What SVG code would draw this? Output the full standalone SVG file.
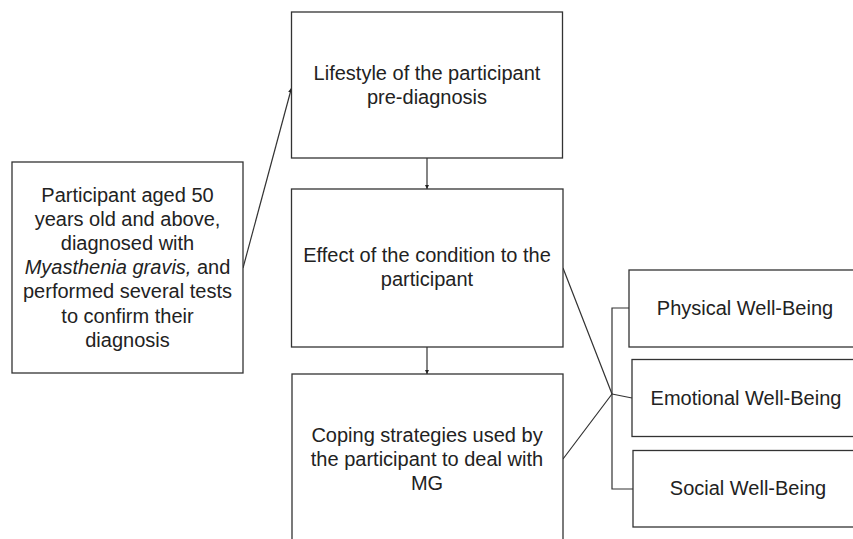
<svg xmlns="http://www.w3.org/2000/svg" width="853" height="539" viewBox="0 0 853 539">
<style>
.box{fill:#fff;stroke:#333;stroke-width:1.3}
.t{font-family:"Liberation Sans",Arial,sans-serif;font-size:20px;fill:#222;text-anchor:middle}
.c{fill:none;stroke:#333;stroke-width:1.2}
</style>
<defs>
<marker id="ah" viewBox="0 0 10 10" refX="10" refY="5" markerWidth="4.5" markerHeight="4.5" orient="auto" markerUnits="userSpaceOnUse">
<path d="M0,0 L10,5 L0,10 z" fill="#222"/>
</marker>
</defs>
<rect width="853" height="539" fill="#fff"/>
<g id="connectors">
<line class="c" x1="243" y1="268" x2="291.5" y2="88" marker-end="url(#ah)"/>
<line class="c" x1="427" y1="158" x2="427" y2="189" marker-end="url(#ah)"/>
<line class="c" x1="427" y1="347" x2="427" y2="374" marker-end="url(#ah)"/>
<polyline class="c" points="563,268 612,394 563,459"/>
<polyline class="c" points="629,308 612,308 612,489 633,489"/>
<line class="c" x1="612" y1="394" x2="632" y2="398"/>
</g>
<g id="participant">
<rect class="box" x="12" y="162" width="231" height="211"/>
<text class="t" x="127.5" y="201.5">Participant aged 50</text>
<text class="t" x="127.5" y="225.7">years old and above,</text>
<text class="t" x="127.5" y="249.9">diagnosed with</text>
<text class="t" x="127.5" y="274.1"><tspan font-style="italic">Myasthenia gravis,</tspan> and</text>
<text class="t" x="127.5" y="298.3">performed several tests</text>
<text class="t" x="127.5" y="322.5">to confirm their</text>
<text class="t" x="127.5" y="346.7">diagnosis</text>
</g>
<g id="lifestyle">
<rect class="box" x="291.5" y="12" width="271" height="146"/>
<text class="t" x="427" y="80">Lifestyle of the participant</text>
<text class="t" x="427" y="104">pre-diagnosis</text>
</g>
<g id="effect">
<rect class="box" x="291.5" y="189" width="271.5" height="158"/>
<text class="t" x="427" y="262">Effect of the condition to the</text>
<text class="t" x="427" y="286">participant</text>
</g>
<g id="coping">
<rect class="box" x="292" y="374" width="271" height="180"/>
<text class="t" x="427" y="442">Coping strategies used by</text>
<text class="t" x="427" y="466">the participant to deal with</text>
<text class="t" x="427" y="490">MG</text>
</g>
<g id="physical">
<rect class="box" x="629" y="270" width="240" height="77"/>
<text class="t" x="745" y="315">Physical Well-Being</text>
</g>
<g id="emotional">
<rect class="box" x="632" y="359.5" width="240" height="77"/>
<text class="t" x="746" y="405">Emotional Well-Being</text>
</g>
<g id="social">
<rect class="box" x="633" y="450.5" width="240" height="76.5"/>
<text class="t" x="748" y="495">Social Well-Being</text>
</g>
</svg>
